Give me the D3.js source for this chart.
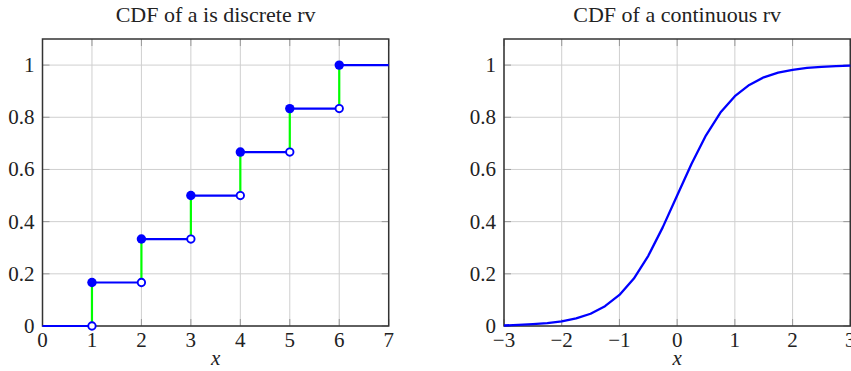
<!DOCTYPE html>
<html>
<head>
<meta charset="utf-8">
<script src="https://cdn.jsdelivr.net/npm/d3@7"></script>
<style>
  body { margin: 0; background: #fff; }
  svg text { font-family: "Liberation Serif", "DejaVu Serif", serif; fill: #222; }
</style>
</head>
<body>
<div id="chart"></div>
<script>
// discrete rv: support points and cdf values
var stepX = [1, 2, 3, 4, 5, 6];
var stepCdf = [0.1667, 0.3333, 0.5, 0.6667, 0.8333, 1];

// continuous rv
var contX = [-3, -2.75, -2.5, -2.25, -2, -1.75, -1.5, -1.25, -1, -0.75, -0.5, -0.25,
  0, 0.25, 0.5, 0.75, 1, 1.25, 1.5, 1.75, 2, 2.25, 2.5, 2.75, 3];
var contCdf = [0.002, 0.004, 0.007, 0.011, 0.018, 0.029, 0.047, 0.076, 0.119, 0.182, 0.269, 0.378,
  0.5, 0.622, 0.731, 0.818, 0.881, 0.924, 0.953, 0.971, 0.982, 0.989, 0.993, 0.996, 0.998];

var leftTicks = [0, 1, 2, 3, 4, 5, 6, 7];
var rightTicks = [-3, -2, -1, 0, 1, 2, 3];
var yTicks = [0, 0.2, 0.4, 0.6, 0.8, 1];
var titles = ["CDF of a is discrete rv", "CDF of a continuous rv"];

var width = 851, height = 371;
var svg = d3.select("#chart").append("svg")
  .attr("width", width)
  .attr("height", height);

var y = d3.scaleLinear().domain([0, 1.1]).range([326, 39]);
var xL = d3.scaleLinear().domain([0, 7]).range([42.5, 388.7]);
var xR = d3.scaleLinear().domain([-3, 3]).range([504, 850.3]);

var fmt = function(v) { return String(v).replace("-", "\u2212"); };

function drawAxes(x, xticks, title) {
  var g = svg.append("g");
  var x0 = x.range()[0], x1 = x.range()[1];
  var y0 = y.range()[0], y1 = y.range()[1];

  // grid
  g.selectAll(".vg").data(xticks).enter().append("line")
    .attr("x1", d => x(d)).attr("x2", d => x(d))
    .attr("y1", y0).attr("y2", y1)
    .style("stroke", "#cfcfcf").style("stroke-width", 1);
  g.selectAll(".hg").data(yTicks).enter().append("line")
    .attr("x1", x0).attr("x2", x1)
    .attr("y1", d => y(d)).attr("y2", d => y(d))
    .style("stroke", "#cfcfcf").style("stroke-width", 1);

  // inward tick marks on all four sides
  var tk = 7;
  xticks.forEach(function(d) {
    g.append("line").attr("x1", x(d)).attr("x2", x(d)).attr("y1", y0).attr("y2", y0 - tk)
      .style("stroke", "#999").style("stroke-width", 1);
    g.append("line").attr("x1", x(d)).attr("x2", x(d)).attr("y1", y1).attr("y2", y1 + tk)
      .style("stroke", "#999").style("stroke-width", 1);
  });
  yTicks.forEach(function(d) {
    g.append("line").attr("x1", x0).attr("x2", x0 + tk).attr("y1", y(d)).attr("y2", y(d))
      .style("stroke", "#999").style("stroke-width", 1);
    g.append("line").attr("x1", x1).attr("x2", x1 - tk).attr("y1", y(d)).attr("y2", y(d))
      .style("stroke", "#999").style("stroke-width", 1);
  });

  // frame
  g.append("rect")
    .attr("x", x0).attr("y", y1)
    .attr("width", x1 - x0).attr("height", y0 - y1)
    .style("fill", "none").style("stroke", "#333").style("stroke-width", 1.5);

  // tick labels
  g.selectAll(".xl").data(xticks).enter().append("text")
    .attr("x", d => x(d)).attr("y", 347)
    .style("text-anchor", "middle").style("font-size", "21px")
    .text(fmt);
  g.selectAll(".yl").data(yTicks).enter().append("text")
    .attr("x", x0 - 8).attr("y", d => y(d) + 7)
    .style("text-anchor", "end").style("font-size", "21px")
    .text(fmt);

  g.append("text")
    .attr("x", (x0 + x1) / 2).attr("y", 365)
    .style("text-anchor", "middle").style("font-size", "21px").style("font-style", "italic")
    .text("x");

  g.append("text")
    .attr("x", (x0 + x1) / 2).attr("y", 22)
    .style("text-anchor", "middle").style("font-size", "22px")
    .text(title);
  return g;
}

// left: discrete cdf
var gl = drawAxes(xL, leftTicks, titles[0]);
var jumps = stepX.map((d, i) => ({ x: d, lo: i == 0 ? 0 : stepCdf[i - 1], hi: stepCdf[i] }));

gl.selectAll(".jump").data(jumps).enter().append("line")
  .attr("x1", d => xL(d.x)).attr("x2", d => xL(d.x))
  .attr("y1", d => y(d.lo)).attr("y2", d => y(d.hi))
  .style("stroke", "#00ff00").style("stroke-width", 2.2);

// horizontal pieces: [0,1) at 0, then [k,k+1) at F(k), last one to the edge
var flats = [{ a: 0, b: stepX[0], v: 0 }].concat(stepX.map((d, i) => ({
  a: d, b: i < stepX.length - 1 ? stepX[i + 1] : xL.domain()[1], v: stepCdf[i]
})));
gl.selectAll(".flat").data(flats).enter().append("line")
  .attr("x1", d => xL(d.a)).attr("x2", d => xL(d.b))
  .attr("y1", d => y(d.v)).attr("y2", d => y(d.v))
  .style("stroke", "#0000ff").style("stroke-width", 2.2);

gl.selectAll(".open").data(jumps).enter().append("circle")
  .attr("cx", d => xL(d.x)).attr("cy", d => y(d.lo)).attr("r", 3.7)
  .style("fill", "#fff").style("stroke", "#0000ff").style("stroke-width", 1.9);
gl.selectAll(".closed").data(jumps).enter().append("circle")
  .attr("cx", d => xL(d.x)).attr("cy", d => y(d.hi)).attr("r", 4.7)
  .style("fill", "#0000ff");

// right: continuous cdf
var gr = drawAxes(xR, rightTicks, titles[1]);
var line = d3.line()
  .x((d, i) => xR(contX[i]))
  .y(d => y(d));
gr.append("path")
  .attr("d", line(contCdf))
  .style("fill", "none").style("stroke", "#0000ff").style("stroke-width", 2.3)
  .style("stroke-linejoin", "round");
</script>
</body>
</html>
